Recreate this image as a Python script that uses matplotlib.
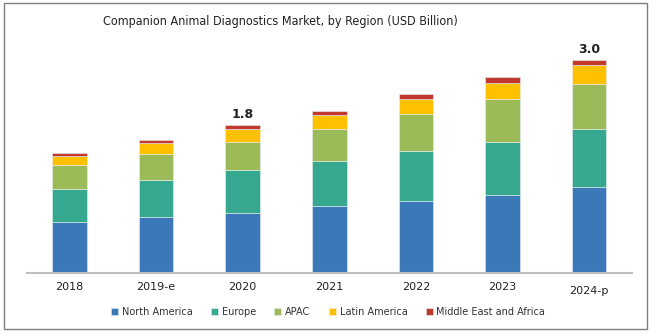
import matplotlib
matplotlib.use("Agg")
import matplotlib.pyplot as plt
import numpy as np
from matplotlib.patches import Rectangle

# data (bar heights, USD Billion scale)
years = ["2018", "2019-e", "2020", "2021", "2022", "2023", "2024-p"]
regions = ["North America", "Europe", "APAC", "Latin America", "Middle East and Africa"]
north_america = [0.715, 0.786, 0.847, 0.938, 1.003, 1.088, 1.207]
europe = [0.467, 0.524, 0.595, 0.633, 0.708, 0.760, 0.820]
apac = [0.330, 0.364, 0.406, 0.457, 0.530, 0.595, 0.640]
latin_america = [0.137, 0.150, 0.176, 0.190, 0.203, 0.236, 0.260]
mea = [0.042, 0.052, 0.060, 0.060, 0.070, 0.080, 0.075]
top_labels = {2: "1.8", 6: "3.0"}

colors = ["#3a78b8", "#36a88f", "#9bbb59", "#ffc000", "#c0392b"]

fig = plt.figure(figsize=(6.5, 3.34), dpi=100)
ax = fig.add_axes([0.041, 0.184, 0.931, 0.70])

x = np.arange(len(years))
bottom = np.zeros(len(years))
series = [north_america, europe, apac, latin_america, mea]
for vals, name, c in zip(series, regions, colors):
    ax.bar(x, vals, 0.4, bottom=bottom, color=c, label=name,
           edgecolor="#e8eef2", linewidth=0.4)
    bottom += np.array(vals)

for i, txt in top_labels.items():
    ax.annotate(txt, (x[i], bottom[i]), xytext=(0, 3), textcoords="offset points",
                ha="center", va="bottom", fontsize=9, fontweight="bold", color="#222222")

ax.set_xlim(-0.494, len(years) - 1 + 0.494)
ax.set_ylim(0, 3.3)
ax.set_xticks(x)
ax.set_xticklabels(years, fontsize=8, color="#222222")
ax.tick_params(axis="x", length=0, pad=7)
ax.set_yticks([])
for s in ["top", "right", "left"]:
    ax.spines[s].set_visible(False)
ax.spines["bottom"].set_color("#bfbfbf")
ax.spines["bottom"].set_linewidth(1.5)
# last label sits a bit lower in the original
ax.get_xticklabels()[-1].set_y(-0.015)

fig.text(0.431, 0.935, "Companion Animal Diagnostics Market, by Region (USD Billion)",
         ha="center", va="center", fontsize=9, fontstretch="condensed",
         family=["DejaVu Sans"], color="#222222")

fig.legend(loc="center", bbox_to_anchor=(0.505, 0.067), ncol=5, frameon=False,
           fontsize=7, handlelength=0.7, handleheight=0.7, handletextpad=0.4,
           columnspacing=1.9, labelcolor="#333333")

fig.patches.append(Rectangle((0.006, 0.015), 0.99, 0.975, transform=fig.transFigure,
                             fill=False, edgecolor="#7f7f7f", linewidth=1.0))

fig.savefig("out.png", dpi=100)
